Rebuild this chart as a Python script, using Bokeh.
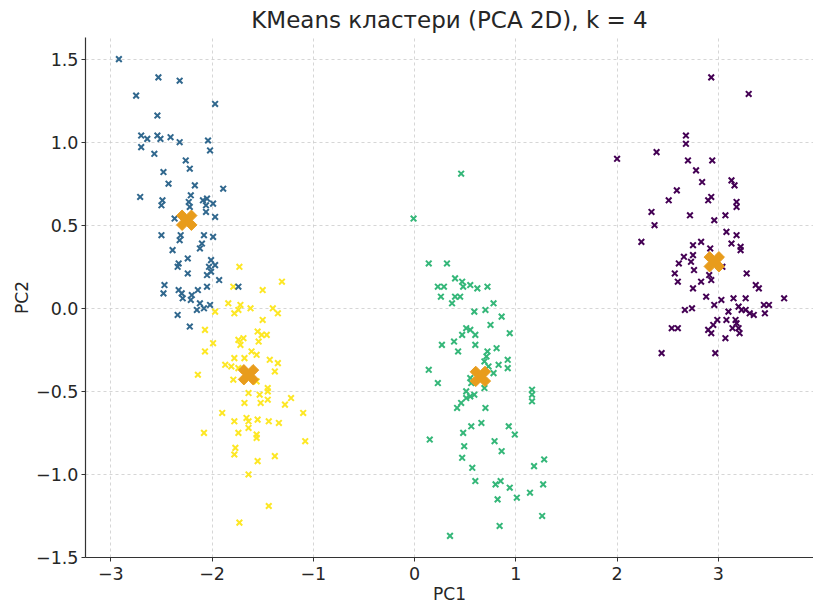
import numpy as np
from bokeh.plotting import figure
from bokeh.models import ColumnDataSource, FixedTicker, CustomJSTickFormatter, Range1d
from bokeh.embed import file_html
from bokeh.resources import INLINE

# ---------------- data ----------------
purple_x = [2.93, 3.30, 2.68, 2.68, 2.39, 2.00, 2.70, 2.94, 2.78, 2.84, 3.13, 3.16, 2.59, 2.51,
            2.90, 2.93, 3.18, 3.18, 2.34, 3.07, 2.72, 2.96, 2.37, 3.08, 3.18, 2.24, 2.83, 2.75,
            3.13, 3.22, 3.22, 2.92, 2.66, 2.75, 2.73, 2.61, 3.04, 2.76, 2.57, 3.28, 2.91, 2.93,
            2.60, 2.83, 3.37, 3.40, 2.75, 2.88, 3.03, 3.15, 3.27, 3.65, 2.96, 2.67, 2.74, 3.20,
            3.23, 3.27, 3.45, 3.50, 3.10, 3.31, 3.35, 3.46, 2.99, 3.08, 3.17, 3.18, 2.95, 2.54,
            2.60, 2.90, 2.93, 3.14, 3.20, 3.21, 3.07, 2.44, 2.97]
purple_y = [1.39, 1.29, 1.04, 0.99, 0.94, 0.90, 0.89, 0.89, 0.83, 0.76, 0.77, 0.74, 0.71, 0.65,
            0.65, 0.67, 0.64, 0.61, 0.58, 0.56, 0.56, 0.53, 0.50, 0.46, 0.44, 0.40, 0.40, 0.38,
            0.39, 0.37, 0.35, 0.36, 0.31, 0.32, 0.28, 0.27, 0.25, 0.23, 0.21, 0.21, 0.20, 0.17,
            0.16, 0.16, 0.14, 0.12, 0.12, 0.07, 0.05, 0.06, 0.06, 0.06, 0.02, -0.01, 0.00, 0.01,
            -0.01, -0.01, 0.02, 0.02, -0.02, -0.03, -0.04, -0.03, -0.07, -0.07, -0.07, -0.09, -0.10, -0.12,
            -0.12, -0.13, -0.15, -0.12, -0.12, -0.15, -0.18, -0.27, -0.27]

blue_x = [-2.92, -2.53, -2.32, -2.75, -1.97, -2.54, -2.70, -2.64, -2.54, -2.51, -2.41, -2.32,
          -2.04, -2.02, -2.70, -2.57, -2.26, -2.22, -2.48, -2.43, -2.17, -1.89, -2.71, -2.49,
          -2.50, -2.21, -2.23, -2.22, -2.09, -2.05, -1.99, -2.06, -2.06, -1.97, -2.37, -2.50,
          -2.31, -2.32, -2.08, -1.99, -2.10, -2.12, -2.39, -2.24, -2.33, -2.34, -2.01, -1.97,
          -2.03, -2.01, -2.05, -2.24, -1.93, -2.47, -2.48, -2.33, -2.30, -2.29, -2.14, -2.05,
          -1.74, -2.20, -2.21, -2.12, -2.08, -2.02, -2.15, -2.34, -2.22]
blue_y = [1.50, 1.39, 1.37, 1.28, 1.23, 1.16, 1.04, 1.02, 1.04, 1.02, 1.03, 1.00,
          1.01, 0.95, 0.97, 0.93, 0.89, 0.84, 0.82, 0.75, 0.74, 0.72, 0.67, 0.65,
          0.62, 0.68, 0.64, 0.61, 0.65, 0.66, 0.63, 0.62, 0.58, 0.55, 0.54, 0.44,
          0.44, 0.41, 0.44, 0.43, 0.39, 0.36, 0.35, 0.30, 0.27, 0.25, 0.29, 0.26,
          0.25, 0.22, 0.20, 0.21, 0.17, 0.14, 0.09, 0.11, 0.09, 0.06, 0.11, 0.13,
          0.13, 0.08, 0.05, 0.03, 0.00, 0.02, -0.01, -0.04, -0.11]

green_x = [0.46, -0.01, 0.14, 0.32, 0.40, 0.47, 0.55, 0.48, 0.23, 0.29, 0.62, 0.72, 0.26, 0.40,
           0.45, 0.37, 0.78, 0.59, 0.70, 0.86, 0.75, 0.51, 0.55, 0.47, 0.60, 0.94, 0.39, 0.27,
           0.60, 0.81, 0.43, 0.72, 0.71, 0.69, 0.92, 0.92, 0.83, 0.73, 0.78, 0.14, 0.23, 0.55,
           0.56, 0.69, 0.51, 0.55, 0.59, 0.51, 0.46, 0.42, 1.16, 1.16, 1.16, 0.70, 0.66, 0.56,
           0.48, 0.93, 0.99, 0.15, 0.79, 0.49, 0.86, 0.47, 0.57, 1.28, 1.18, 0.60, 0.80, 0.85,
           0.94, 1.27, 1.14, 1.01, 0.82, 1.26, 0.84, 0.35]
green_y = [0.81, 0.54, 0.27, 0.27, 0.18, 0.16, 0.14, 0.13, 0.13, 0.13, 0.12, 0.13, 0.07, 0.07,
           0.07, 0.03, 0.03, -0.02, -0.01, -0.05, -0.10, -0.12, -0.13, -0.16, -0.16, -0.15, -0.20, -0.22,
           -0.22, -0.24, -0.26, -0.26, -0.29, -0.32, -0.31, -0.36, -0.34, -0.35, -0.39, -0.37, -0.45, -0.42,
           -0.45, -0.48, -0.50, -0.53, -0.52, -0.54, -0.57, -0.60, -0.49, -0.52, -0.56, -0.60, -0.69, -0.71,
           -0.75, -0.71, -0.76, -0.79, -0.80, -0.83, -0.86, -0.90, -0.96, -0.91, -0.95, -1.04, -1.06, -1.04,
           -1.08, -1.06, -1.11, -1.14, -1.15, -1.25, -1.31, -1.37]

yellow_x = [-1.73, -1.31, -1.79, -1.50, -1.84, -1.72, -1.62, -1.97, -1.78, -1.74, -1.40, -1.35,
            -1.50, -2.07, -1.55, -1.51, -1.46, -1.69, -1.74, -1.99, -1.54, -1.72, -2.07, -1.61,
            -1.56, -1.78, -1.68, -1.43, -1.35, -1.87, -1.81, -1.74, -1.38, -2.14, -1.79, -1.56,
            -1.45, -1.64, -1.53, -1.45, -1.45, -1.52, -1.68, -1.22, -1.28, -1.10, -1.90, -1.78,
            -1.66, -1.64, -1.55, -1.44, -1.34, -1.64, -2.08, -1.74, -1.56, -1.56, -1.08, -1.77,
            -1.78, -1.38, -1.55, -1.64, -1.44, -1.73]
yellow_y = [0.25, 0.16, 0.13, 0.11, 0.03, 0.02, 0.00, -0.02, -0.03, -0.01, 0.00, -0.03,
            -0.07, -0.13, -0.14, -0.16, -0.16, -0.18, -0.19, -0.21, -0.20, -0.22, -0.26, -0.26,
            -0.28, -0.30, -0.30, -0.31, -0.33, -0.34, -0.35, -0.36, -0.38, -0.40, -0.43, -0.44,
            -0.48, -0.51, -0.52, -0.50, -0.55, -0.57, -0.57, -0.54, -0.58, -0.63, -0.63, -0.68,
            -0.66, -0.68, -0.67, -0.68, -0.69, -0.72, -0.75, -0.75, -0.76, -0.78, -0.80, -0.84,
            -0.88, -0.89, -0.92, -1.00, -1.19, -1.29]

centroid_x = [2.96, -2.25, 0.65, -1.64]
centroid_y = [0.28, 0.53, -0.41, -0.40]

x_ticks = [-3, -2, -1, 0, 1, 2, 3]
y_ticks = [-1.5, -1.0, -0.5, 0.0, 0.5, 1.0, 1.5]

title_text = "KMeans кластери (PCA 2D), k = 4"
x_label = "PC1"
y_label = "PC2"

colors = ["#440154", "#31688e", "#35b779", "#fde725"]
centroid_color = "#e89c1c"

# ---------------- figure ----------------
FONT = "DejaVu Sans"
TXT = "#262626"

p = figure(width=813, height=606, output_backend="svg", toolbar_location=None,
           x_range=Range1d(-3.25, 3.94), y_range=Range1d(-1.5, 1.63),
           min_border_left=85, min_border_right=0, min_border_top=37, min_border_bottom=48)
p.background_fill_color = "white"
p.border_fill_color = "white"
p.outline_line_color = None

p.title.text = title_text
p.title.align = "center"
p.title.text_font = FONT
p.title.text_font_size = "23px"
p.title.text_font_style = "normal"
p.title.text_color = TXT
p.title.standoff = 9

for ax, ticks, fmt in ((p.xaxis[0], x_ticks, "return (tick).toFixed(0).replace('-', '\u2212')"),
                       (p.yaxis[0], y_ticks, "return (tick).toFixed(1).replace('-', '\u2212')")):
    ax.ticker = FixedTicker(ticks=ticks)
    ax.formatter = CustomJSTickFormatter(code=fmt)
    ax.major_label_text_font = FONT
    ax.major_label_text_font_size = "17.5px"
    ax.major_label_text_color = TXT
    ax.axis_label_text_font = FONT
    ax.axis_label_text_font_size = "17px"
    ax.axis_label_text_font_style = "normal"
    ax.axis_label_text_color = TXT
    ax.axis_line_color = "#333333"
    ax.axis_line_width = 1.2
    ax.major_tick_line_color = "#333333"
    ax.major_tick_out = 4
    ax.major_tick_in = 0
    ax.minor_tick_line_color = None

p.xaxis.axis_label = x_label
p.yaxis.axis_label = y_label
p.xaxis.major_label_standoff = 5
p.xaxis.axis_label_standoff = 1
p.yaxis.major_label_standoff = 3
p.yaxis.axis_label_standoff = 1

for g in (p.xgrid[0], p.ygrid[0]):
    g.grid_line_color = "#cccccc"
    g.grid_line_dash = "3 3"
    g.grid_line_width = 1
    g.grid_line_alpha = 0.8
p.xgrid.ticker = FixedTicker(ticks=x_ticks)
p.ygrid.ticker = FixedTicker(ticks=y_ticks)

series = [(purple_x, purple_y), (green_x, green_y), (yellow_x, yellow_y), (blue_x, blue_y)]
series_colors = [colors[0], colors[2], colors[3], colors[1]]
for (xs, ys), c in zip(series, series_colors):
    src = ColumnDataSource(data=dict(x=xs, y=ys))
    p.scatter("x", "y", source=src, marker="x", size=8, line_width=2, line_color=c)

csrc = ColumnDataSource(data=dict(x=centroid_x, y=centroid_y))
p.scatter("x", "y", source=csrc, marker="plus", size=21, angle=np.pi / 4,
          fill_color=centroid_color, line_color=centroid_color, line_width=1)

open("out.html", "w").write(file_html(p, INLINE))
